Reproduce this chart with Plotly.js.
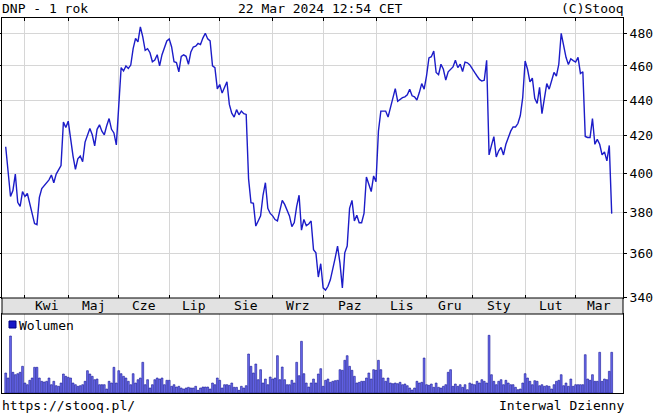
<!DOCTYPE html>
<html><head><meta charset="utf-8">
<script src="https://cdn.plot.ly/plotly-3.0.1.min.js"></script>
<style>html,body{margin:0;padding:0;background:#fff}#chart{width:654px;height:414px}</style>
</head><body><div id="chart"></div>
<script>
// ---------- data ----------
const titleLeft = 'DNP - 1 rok';
const titleCenter = '22 Mar 2024 12:54 CET';
const titleRight = '(C)Stooq';
const footLeft = 'https://stooq.pl/';
const footRight = 'Interwal Dzienny';
const volumeLabel = 'Wolumen';
const startDate = '2023-03-22';
const endDate = '2024-03-22';
const holidays = ['2023-04-07','2023-04-10','2023-05-01','2023-05-03','2023-06-08','2023-08-15',
                  '2023-11-01','2023-12-25','2023-12-26','2024-01-01'];
const monthNames = ['Sty','Lut','Mar','Kwi','Maj','Cze','Lip','Sie','Wrz','Paz','Lis','Gru'];
const priceTicks = [340,360,380,400,420,440,460,480];

const close = [
 414, 402, 388, 391, 399.5, 385, 383, 390.5, 388, 389.5,
 384, 380, 374.5, 374, 387.5, 392, 393.5, 394.5, 396.5, 399,
 395, 399.5, 402, 404, 427.5, 424.5, 428, 418, 409, 402,
 407.5, 409, 406, 416.5, 420.5, 424, 420.5, 414.5, 423.5, 426,
 422.5, 420.5, 425.5, 429.5, 423.5, 421.5, 415, 437, 459, 457,
 460, 458.5, 460.5, 470.5, 476.8, 474.7, 484, 477.8, 469.5, 470.5,
 468, 462.5, 463.5, 466.8, 460, 466.8, 471.5, 475.2, 476.5, 471.5,
 462.5, 462, 456.5, 465.8, 466.7, 465.8, 461, 468.5, 471.5, 472,
 473.7, 473, 477, 480, 476.5, 475.3, 460, 459, 446.4, 449,
 444, 447.3, 450.6, 437.5, 432.5, 430.3, 434.5, 431.6, 433.7, 432.2,
 431.8, 397, 384.8, 384.5, 373.3, 375.8, 378.3, 388.6, 395, 382,
 379.5, 378.3, 376.5, 375.8, 381.2, 386, 384, 381.5, 378.3, 373,
 375, 383, 388.6, 371.3, 376.5, 373.5, 374.3, 375.8, 362, 360.5,
 349.3, 355.4, 344.4, 343.4, 345.1, 348, 352.5, 358, 363.7, 355.7,
 344.4, 360.5, 363.7, 382, 386, 375.8, 378.6, 374.9, 374.9, 379.5,
 398, 394.5, 390.5, 398.5, 395.5, 422.5, 433.7, 433.7, 433.7, 430.3,
 435.6, 440, 446.6, 439.3, 440.5, 441.4, 441.8, 443, 446.2, 442.4,
 441.8, 440, 444.3, 449.5, 446.3, 454, 464.8, 465.6, 469, 456.1,
 454.8, 461, 458, 451.6, 456.5, 458, 459.4, 463.4, 459, 461,
 456.7, 462.3, 461.9, 460.6, 458, 456.1, 454, 452, 451, 451.5,
 463.4, 409.6, 414.7, 419.5, 408.5, 411.8, 413.6, 409.6, 415.3, 419.5,
 422.5, 424.8, 424.8, 426.7, 431.2, 441.4, 463, 458, 450.5, 452.8,
 441, 438, 447.3, 432.2, 441, 449.5, 446.3, 452, 456.1, 454,
 461, 480, 472.7, 465.2, 460.8, 464.3, 463.2, 462.3, 465.2, 455.5,
 456.5, 419.6, 419, 419, 429.5, 415.3, 418, 415.3, 409.6, 411.2,
 406.4, 414.7, 379.4
];

const volume = [
 20, 15, 57, 20.7, 18.3, 19.3, 20.7, 26.7, 10, 8.3,
 12.7, 15, 25.7, 25.7, 15, 11.7, 11, 11.7, 15, 8.3,
 11.7, 7.3, 6.7, 10, 19, 16.7, 15.7, 15, 10, 8.3,
 6.7, 7.3, 8.3, 11.7, 22.3, 19, 16.7, 13.3, 14, 8.3,
 8.3, 8.3, 4, 11.7, 10, 25.7, 10, 22.3, 19.3, 16.7,
 15, 11.7, 8.3, 19.3, 10, 13.3, 15, 30.7, 8.3, 13.3,
 5, 8.3, 13.3, 15, 14, 15, 8.3, 12.7, 12.7, 6.7,
 8.3, 6, 6.7, 5, 4, 5, 5.7, 5, 5, 6.7,
 2.7, 5, 6, 6, 6, 4, 10, 8.3, 15, 12.7,
 5, 8.3, 8.3, 7.7, 10, 5.7, 5.7, 2.7, 6.7, 5,
 7.3, 39, 26.7, 20, 29, 13.3, 23.3, 10, 14, 8.3,
 16, 14, 15, 37.3, 13.3, 26, 13.3, 8.3, 8.3, 12.7,
 10, 30.7, 17.3, 51.7, 19.3, 10, 6, 10, 14, 10,
 19, 24.3, 6.7, 12.7, 14, 10.7, 11.7, 12.3, 12.7, 23.3,
 22.7, 32.7, 37.3, 26.7, 22.7, 16.7, 10, 10.7, 11.7, 11.7,
 15, 20, 14, 23.3, 22.7, 32.7, 23.3, 15, 11.7, 15,
 10, 9.3, 10, 9.3, 10.7, 8.3, 9, 7.3, 5, 3,
 5, 11.7, 10, 10.7, 35, 8.3, 7.7, 9, 5.7, 10,
 5.7, 5, 6.7, 8.3, 20.7, 23.3, 6.7, 9, 6.7, 8.3,
 5.7, 8.3, 3.3, 10, 9, 8.3, 11.7, 10, 13.3, 11.7,
 10, 57.7, 18.3, 11.7, 8.3, 11.7, 13.3, 8.3, 12.7, 10,
 8.3, 8.3, 5.7, 3.3, 4, 10, 19.3, 15, 11.7, 8.3,
 12.3, 11.7, 7.3, 8.3, 6.7, 7.3, 6.7, 4, 8.3, 11.7,
 12.7, 18.3, 7.3, 10, 6.7, 14, 6.7, 8.3, 8.3, 8.3,
 8.3, 38.3, 14, 12.7, 18.3, 11.7, 11.7, 40.7, 11.7, 14,
 13.3, 21.7, 40.7
];

// ---------- trading calendar (categories) ----------
function tradingDays(a, b, hol) {
  const out = [];
  const d = new Date(a + 'T00:00:00Z'), e = new Date(b + 'T00:00:00Z');
  while (d <= e) {
    const s = d.toISOString().slice(0, 10);
    const wd = d.getUTCDay();
    if (wd !== 0 && wd !== 6 && hol.indexOf(s) < 0) out.push(s);
    d.setUTCDate(d.getUTCDate() + 1);
  }
  return out;
}
const dates = tradingDays(startDate, endDate, holidays).slice(0, close.length);

// ---------- geometry ----------
const W = 654, H = 414;
const M = {l: 2, r: 31, t: 18, b: 21};
const PW = W - M.l - M.r, PH = H - M.t - M.b;
const px = v => (v - M.l) / PW;
const py = v => (H - M.b - v) / PH;
const step = 2.4048;
const xr = [-3.7 / step, close.length - 1 + 11.3 / step];

const monthStartIdx = [];
for (let i = 1; i < dates.length; i++) if (dates[i].slice(5, 7) !== dates[i - 1].slice(5, 7)) monthStartIdx.push(i);
const monthStarts = monthStartIdx.map(i => dates[i]);

const FONT = 'DejaVu Sans Mono, Liberation Mono, monospace';
const f13 = {family: FONT, size: 13, color: '#000'};

const annotations = [];
monthStartIdx.forEach((s, k) => {
  const e = k + 1 < monthStartIdx.length ? monthStartIdx[k + 1] : xr[1];
  annotations.push({xref: 'x', yref: 'paper', x: (s + e) / 2, y: py(305.5), xanchor: 'center', yanchor: 'middle',
    text: monthNames[parseInt(dates[s].slice(5, 7), 10) - 1], showarrow: false, font: f13});
});
annotations.push({xref: 'paper', yref: 'paper', x: px(0), y: py(8), xanchor: 'left', yanchor: 'middle', text: titleLeft, showarrow: false, font: f13});
annotations.push({xref: 'paper', yref: 'paper', x: px(321), y: py(8), xanchor: 'center', yanchor: 'middle', text: titleCenter, showarrow: false, font: f13});
annotations.push({xref: 'paper', yref: 'paper', x: px(626), y: py(8), xanchor: 'right', yanchor: 'middle', text: titleRight, showarrow: false, font: f13});
annotations.push({xref: 'paper', yref: 'paper', x: px(0), y: py(405), xanchor: 'left', yanchor: 'middle', text: footLeft, showarrow: false, font: f13});
annotations.push({xref: 'paper', yref: 'paper', x: px(626), y: py(405), xanchor: 'right', yanchor: 'middle', text: footRight, showarrow: false, font: f13});
annotations.push({xref: 'paper', yref: 'paper', x: px(17), y: py(325), xanchor: 'left', yanchor: 'middle', text: volumeLabel, showarrow: false, font: f13});

const shapes = [
  {type: 'rect', xref: 'paper', yref: 'paper', x0: 0, x1: 1, y0: py(314), y1: py(298),
   fillcolor: '#e2e2e2', line: {color: '#000', width: 1}, layer: 'above'},
  {type: 'rect', xref: 'paper', yref: 'paper', x0: px(9), x1: px(16), y0: py(328), y1: py(321),
   fillcolor: '#1818c8', line: {color: '#000080', width: 1}, layer: 'above'}
];

const traces = [
  {type: 'scatter', mode: 'lines', x: dates, y: close, xaxis: 'x', yaxis: 'y',
   line: {color: 'rgb(28,28,200)', width: 1.4}, hoverinfo: 'x+y', showlegend: false},
  {type: 'bar', x: dates, y: volume, xaxis: 'x2', yaxis: 'y2', name: volumeLabel,
   marker: {color: 'rgb(110,110,240)', line: {color: 'rgb(20,20,150)', width: 0.6}}, showlegend: false}
];

const gridC = '#d6d6d6';
const layout = {
  width: W, height: H, margin: M, paper_bgcolor: '#fff', plot_bgcolor: '#fff',
  showlegend: false, bargap: 0.25, font: f13,
  xaxis: {type: 'category', anchor: 'y', domain: [0, 1], range: xr, tickmode: 'array', tickvals: monthStarts,
    showticklabels: false, showgrid: true, gridcolor: gridC, gridwidth: 1, ticks: 'inside', ticklen: 3,
    tickcolor: '#000', showline: true, linecolor: '#000', linewidth: 1, mirror: 'ticks', zeroline: false},
  yaxis: {type: 'log', anchor: 'x', domain: [py(298), 1], range: [2.53131, 2.68991], side: 'right',
    tickmode: 'array', tickvals: priceTicks, ticktext: priceTicks.map(String), tickfont: f13,
    showgrid: true, gridcolor: gridC, gridwidth: 1, ticks: 'outside', ticklen: 3, tickcolor: '#000',
    showline: true, linecolor: '#000', linewidth: 1, mirror: 'ticks', zeroline: false},
  xaxis2: {type: 'category', anchor: 'y2', domain: [0, 1], range: xr, tickmode: 'array', tickvals: monthStarts,
    showticklabels: false, showgrid: true, gridcolor: gridC, gridwidth: 1, ticks: '',
    showline: true, linecolor: '#000', linewidth: 1, mirror: true, zeroline: false},
  yaxis2: {anchor: 'x2', domain: [0, py(314)], range: [0, 79], showticklabels: false, showgrid: false,
    ticks: '', showline: true, linecolor: '#000', linewidth: 1, mirror: true, zeroline: false},
  annotations: annotations, shapes: shapes
};

Plotly.newPlot('chart', traces, layout, {displayModeBar: false, staticPlot: true});
</script>
</body></html>
